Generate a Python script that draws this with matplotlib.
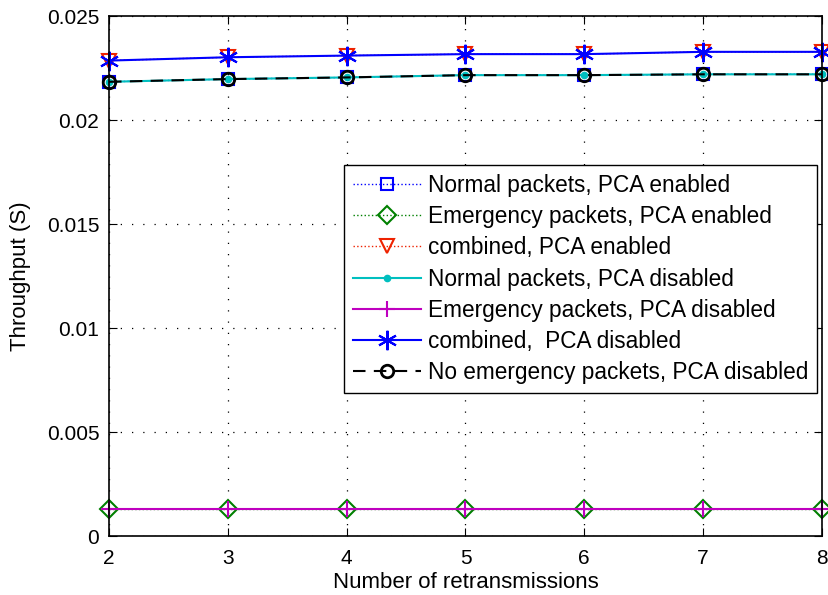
import numpy as np
import matplotlib.pyplot as plt

plt.rcParams['font.family'] = ['Liberation Sans', 'DejaVu Sans']

retx = [2, 3, 4, 5, 6, 7, 8]

# throughput per packet class, PCA enabled
normal_on = [0.02184, 0.02197, 0.02205, 0.02216, 0.02216, 0.0222, 0.0222]
emerg_on = [0.0013, 0.0013, 0.0013, 0.0013, 0.0013, 0.0013, 0.0013]
comb_on = [0.02286, 0.02302, 0.0231, 0.02317, 0.02317, 0.02328, 0.02328]

# throughput per packet class, PCA disabled
normal_off = [0.02184, 0.02197, 0.02205, 0.02216, 0.02216, 0.0222, 0.0222]
emerg_off = [0.0013, 0.0013, 0.0013, 0.0013, 0.0013, 0.0013, 0.0013]
comb_off = [0.02286, 0.02302, 0.0231, 0.02317, 0.02317, 0.02328, 0.02328]
no_emerg = [0.02184, 0.02197, 0.02205, 0.02216, 0.02216, 0.0222, 0.0222]

fig = plt.figure(figsize=(8.29, 5.95), dpi=100)
ax = fig.add_axes([0.1315, 0.099, 0.860, 0.874])

ax.plot(retx, normal_on, ':', color='blue', marker='s', ms=9, mfc='none', mew=1.5,
        lw=1, label='Normal packets, PCA enabled', clip_on=False)
ax.plot(retx, emerg_on, ':', color='green', marker='D', ms=9, mfc='none', mew=1.5,
        lw=1, label='Emergency packets, PCA enabled', clip_on=False)
ax.plot(retx, comb_on, ':', color='#ee2200', marker='v', ms=10, mfc='none', mew=1.5,
        lw=1, label='combined, PCA enabled', clip_on=False)
ax.plot(retx, normal_off, '-', color='#00bfbf', marker='.', ms=9,
        lw=1.5, label='Normal packets, PCA disabled', clip_on=False)
ax.plot(retx, emerg_off, '-', color='#bf00bf', marker='+', ms=12, mew=1.5,
        lw=1.5, label='Emergency packets, PCA disabled', clip_on=False)
ax.plot(retx, comb_off, '-', color='blue', marker=(6, 2, 0), ms=14, mew=1.5,
        lw=1.5, label='combined,  PCA disabled', clip_on=False)
ax.plot(retx, no_emerg, '--', color='black', marker='o', ms=9, mfc='none', mew=2,
        lw=1.5, dashes=(6, 4), label='No emergency packets, PCA disabled', clip_on=False)

ax.set_xlim(2, 8)
ax.set_ylim(0, 0.025)
ax.set_xticks(retx)
ax.set_yticks([0, 0.005, 0.01, 0.015, 0.02, 0.025])
ax.set_yticklabels(['0', '0.005', '0.01', '0.015', '0.02', '0.025'])
ax.tick_params(direction='in', top=True, right=True, labelsize=15, length=6, pad=7)
ax.tick_params(axis='x', pad=9)
ax.grid(True, linestyle=(0, (1, 8)), color='black', lw=0.9)
for s in ax.spines.values():
    s.set_linewidth(1.2)

ax.set_xlabel('Number of retransmissions', fontsize=16, labelpad=3)
ax.set_ylabel('Throughput (S)', fontsize=16, labelpad=11)

leg = ax.legend(loc='upper right', bbox_to_anchor=(0.993, 0.7135), borderaxespad=0,
                fontsize=16.3, fancybox=False, framealpha=1, edgecolor='black',
                handlelength=3.0, borderpad=0.4, labelspacing=0.36, handletextpad=0.3)
leg.get_frame().set_linewidth(1.0)

fig.savefig('out.png', dpi=100)
